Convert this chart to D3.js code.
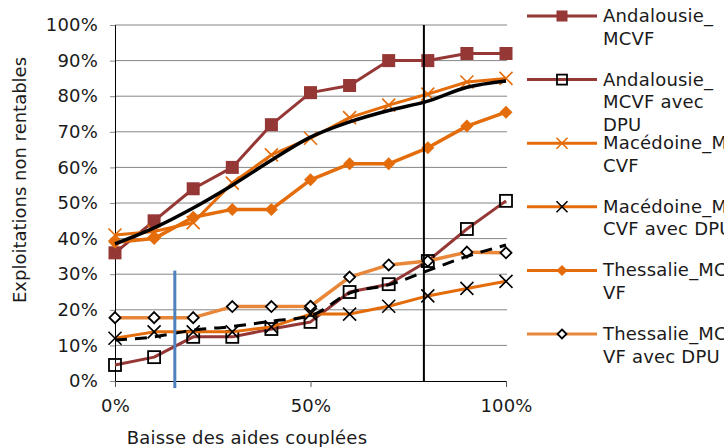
<!DOCTYPE html>
<html><head><meta charset="utf-8">
<script src="https://cdn.jsdelivr.net/npm/d3@7"></script>
<style>body{margin:0;background:#fff;}svg{display:block;font-family:"DejaVu Sans",Verdana,sans-serif;}</style>
</head><body>
<svg id="c" width="724" height="447"></svg>
<script>
const xValues = [0,10,20,30,40,50,60,70,80,90,100];
const andalousie = [36,45,54,60,72,81,83,90,90,92,92];
const andalousieDPU = [4.5,6.7,12.4,12.4,14.6,16.6,25,27.2,33.7,42.7,50.6];
const macedoine = [41,42,44.5,55.6,63.5,68.2,74,77.5,80.6,84,85];
const macedoineDPU = [12,13.8,13.8,13.8,15.2,18.8,18.8,21,23.9,26,28];
const thessalie = [39,40,46,48.2,48.2,56.5,61,61,65.5,71.6,75.5];
const thessalieDPU = [17.8,17.8,17.8,20.9,20.9,21,29.2,32.6,33.7,36.2,36];
const trendSolid = [38.5,43,48.6,55,62,68.5,72.8,76,78.6,82.5,84.3];
const trendDashed = [11.5,12.4,14.3,15.3,16.8,18.3,24.7,27,31,35,38.2];
const yTicks = [0,10,20,30,40,50,60,70,80,90,100];
const xTicks = [0,50,100];
const refLines = [{x:15.3,y0:-2,y1:31,color:"#4F81BD"},{x:79,y0:0,y1:100,color:"#000"}];
const seriesNames = ["Andalousie_|MCVF","Andalousie_|MCVF avec|DPU","Macédoine_M|CVF","Macédoine_M|CVF avec DPU","Thessalie_MC|VF","Thessalie_MC|VF avec DPU"];

const svg = d3.select("#c");
const x = d3.scaleLinear().domain([0,100]).range([115,506]);
const y = d3.scaleLinear().domain([0,100]).range([381,25]);
const fmt = d => d + "%";
const FS = 18, LS = "0.2px";

// gridlines
svg.append("g").selectAll("line").data(yTicks.filter(d=>d>0)).join("line")
  .attr("x1",x(0)).attr("x2",x(100)+1).attr("y1",d=>y(d)).attr("y2",d=>y(d))
  .attr("stroke","#868686").attr("stroke-width",1);

// axes
const yAxis = svg.append("g").attr("transform",`translate(${x(0)},0)`)
  .call(d3.axisLeft(y).tickValues(yTicks).tickFormat(fmt).tickSize(5).tickPadding(12));
const xAxis = svg.append("g").attr("transform",`translate(0,${y(0)})`)
  .call(d3.axisBottom(x).tickValues(xTicks).tickFormat(fmt).tickSize(6).tickPadding(12));
[yAxis,xAxis].forEach(g=>{
  g.select(".domain").attr("stroke","#000");
  g.selectAll(".tick line").attr("stroke","#555");
  g.selectAll("text").attr("font-size",FS).attr("letter-spacing",LS).attr("fill","#1a1a1a").attr("font-family","DejaVu Sans");
});
yAxis.selectAll(".tick line").attr("stroke","#888");

svg.append("text").attr("x",247).attr("y",444).attr("text-anchor","middle")
  .attr("font-size",FS).attr("letter-spacing",LS).attr("fill","#1a1a1a").text("Baisse des aides couplées");
svg.append("text").attr("transform","translate(26,180) rotate(-90)").attr("text-anchor","middle")
  .attr("font-size",FS).attr("fill","#1a1a1a").text("Exploitations non rentables");

const pts = arr => arr.map((v,i)=>[xValues[i],v]);
const lineGen = d3.line().x(d=>x(d[0])).y(d=>y(d[1]));

const ANDA="#953735", ORA="#E46C0A", LORA="#E8873A";
const series = [
  {vals:andalousie, color:ANDA, w:3, marker:"sqFill"},
  {vals:andalousieDPU, color:ANDA, w:3, marker:"sqHollow"},
  {vals:macedoine, color:ORA, w:3, marker:"xOrange"},
  {vals:macedoineDPU, color:ORA, w:3, marker:"xBlack"},
  {vals:thessalie, color:ORA, w:3.5, marker:"diaFill"},
  {vals:thessalieDPU, color:LORA, w:3.5, marker:"diaHollow"}
];

function drawMarker(g, type, color, s){
  const h = s/2;
  if(type==="sqFill") g.append("rect").attr("x",-h).attr("y",-h).attr("width",s).attr("height",s).attr("fill",color);
  else if(type==="sqHollow") g.append("rect").attr("x",-h+0.5).attr("y",-h+0.5).attr("width",s-1).attr("height",s-1).attr("fill","none").attr("stroke","#000").attr("stroke-width",1.8);
  else if(type==="xOrange"||type==="xBlack"){
    const c = type==="xOrange"?color:"#000";
    g.append("path").attr("d",`M${-h},${-h}L${h},${h}M${-h},${h}L${h},${-h}`).attr("stroke",c).attr("stroke-width",1.6).attr("fill","none");
  }
  else if(type==="diaFill") g.append("path").attr("d",`M0,${-h}L${h},0L0,${h}L${-h},0Z`).attr("fill",color);
  else if(type==="diaHollow") g.append("path").attr("d",`M0,${-h+1}L${h-1},0L0,${h-1}L${-h+1},0Z`).attr("fill","#fff").attr("stroke","#000").attr("stroke-width",1.8);
}

series.forEach(s=>{
  const p = pts(s.vals);
  svg.append("path").attr("d",lineGen(p)).attr("fill","none").attr("stroke",s.color).attr("stroke-width",s.w).attr("stroke-linejoin","round");
  p.forEach(d=>{
    const g = svg.append("g").attr("transform",`translate(${x(d[0])},${y(d[1])})`);
    drawMarker(g,s.marker,s.color,13);
  });
});

// trend lines
svg.append("path").attr("d",d3.line().x(d=>x(d[0])).y(d=>y(d[1])).curve(d3.curveMonotoneX)(pts(trendSolid)))
  .attr("fill","none").attr("stroke","#000").attr("stroke-width",3.5);
svg.append("path").attr("d",d3.line().x(d=>x(d[0])).y(d=>y(d[1])).curve(d3.curveMonotoneX)(pts(trendDashed)))
  .attr("fill","none").attr("stroke","#000").attr("stroke-width",3).attr("stroke-dasharray","12,8");

// reference vertical lines
svg.append("g").selectAll("line").data(refLines).join("line")
  .attr("x1",d=>x(d.x)).attr("x2",d=>x(d.x)).attr("y1",d=>y(d.y0)).attr("y2",d=>y(d.y1))
  .attr("stroke",d=>d.color).attr("stroke-width",d=>d.color==="#000"?2:3);

// legend
const legendMarkers = ["sqFill","sqHollow","xOrange","xBlack","diaFill","diaHollow"];
const legColors = [ANDA,ANDA,ORA,ORA,ORA,LORA];
const legY0 = 16, legStep = 63.6;
seriesNames.forEach((name,i)=>{
  const cy = legY0 + i*legStep;
  const g = svg.append("g");
  g.append("line").attr("x1",527).attr("x2",597).attr("y1",cy).attr("y2",cy).attr("stroke",legColors[i]).attr("stroke-width",3);
  const mg = g.append("g").attr("transform",`translate(562,${cy})`);
  drawMarker(mg,legendMarkers[i],legColors[i],11);
  const t = g.append("text").attr("x",603).attr("y",cy+6).attr("font-size",FS).attr("letter-spacing",LS).attr("fill","#1a1a1a");
  name.split("|").forEach((ln,j)=>t.append("tspan").attr("x",603).attr("dy",j===0?0:22.5).text(ln));
});
</script>
</body></html>
